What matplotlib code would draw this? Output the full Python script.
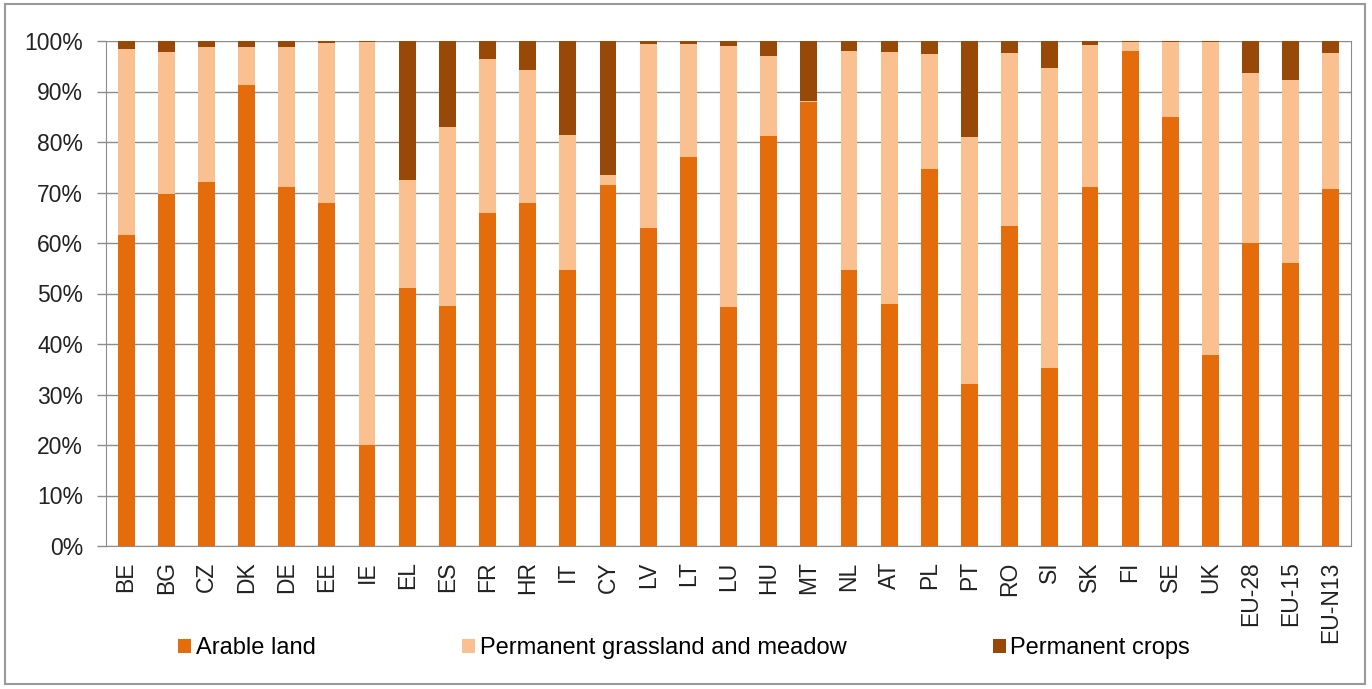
import numpy as np
import matplotlib.pyplot as plt
from matplotlib.patches import Rectangle
from matplotlib.ticker import PercentFormatter

plt.rcParams['font.family'] = ['Liberation Sans', 'DejaVu Sans']

countries = ['BE', 'BG', 'CZ', 'DK', 'DE', 'EE', 'IE', 'EL', 'ES', 'FR', 'HR', 'IT',
             'CY', 'LV', 'LT', 'LU', 'HU', 'MT', 'NL', 'AT', 'PL', 'PT', 'RO', 'SI',
             'SK', 'FI', 'SE', 'UK', 'EU-28', 'EU-15', 'EU-N13']
arable = [61.5, 69.7, 72.0, 91.3, 71.0, 68.0, 20.0, 51.0, 47.5, 66.0, 68.0, 54.7,
          71.5, 63.0, 77.0, 47.3, 81.2, 88.0, 54.6, 48.0, 74.7, 32.0, 63.3, 35.3,
          71.0, 98.0, 85.0, 37.8, 60.0, 56.0, 70.7]
grassland = [37.0, 28.1, 26.8, 7.6, 27.8, 31.7, 79.9, 21.5, 35.5, 30.5, 26.2, 26.6,
             2.0, 36.5, 22.5, 51.8, 15.8, 0.1, 43.4, 49.8, 22.8, 49.0, 34.4, 59.4,
             28.3, 1.8, 14.9, 62.0, 33.7, 36.2, 27.0]
crops = [1.5, 2.2, 1.2, 1.1, 1.2, 0.3, 0.1, 27.5, 17.0, 3.5, 5.8, 18.7,
         26.5, 0.5, 0.5, 0.9, 3.0, 11.9, 2.0, 2.2, 2.5, 19.0, 2.3, 5.3,
         0.7, 0.2, 0.1, 0.2, 6.3, 7.8, 2.3]

W, H = 1372, 689
fig = plt.figure(figsize=(W / 100, H / 100), dpi=100)
ax = fig.add_axes([106 / W, 1 - 546 / H, (1351 - 106) / W, (546 - 41) / H])

x = np.arange(len(countries))
w = 0.42
ax.bar(x, arable, w, color='#E46C0A', label='Arable land', zorder=3)
ax.bar(x, grassland, w, bottom=arable, color='#FAC090',
       label='Permanent grassland and meadow', zorder=3)
bottom2 = np.array(arable) + np.array(grassland)
ax.bar(x, crops, w, bottom=bottom2, color='#984807', label='Permanent crops', zorder=3)

ax.set_xlim(-0.5, len(countries) - 0.5)
ax.set_ylim(0, 100)
ax.set_yticks(np.arange(0, 101, 10))
ax.yaxis.set_major_formatter(PercentFormatter(decimals=0))
ax.set_xticks(x)
ax.set_xticklabels(countries, rotation=90)
ax.tick_params(axis='both', labelsize=16.5, labelcolor='#222222')
ax.tick_params(axis='x', length=0, pad=11)
ax.tick_params(axis='y', length=6.5, width=1, color='#8c8c8c', pad=10)
ax.grid(axis='y', color='#8c8c8c', linewidth=1, zorder=0)
ax.spines['top'].set_visible(False)
for s in ['left', 'bottom', 'right']:
    ax.spines[s].set_color('#8c8c8c')

fig.legend(loc='center', bbox_to_anchor=(684 / W, 1 - 648 / H), ncol=3,
           frameon=False, fontsize=17, handlelength=0.55, handleheight=0.55,
           handletextpad=0.2, columnspacing=6.2)

fig.patches.append(Rectangle((5 / W, 5 / H), 1360 / W, 680 / H,
                             transform=fig.transFigure, fill=False,
                             edgecolor='#9a9a9a', linewidth=1.5))

fig.savefig('out.png', dpi=100)
